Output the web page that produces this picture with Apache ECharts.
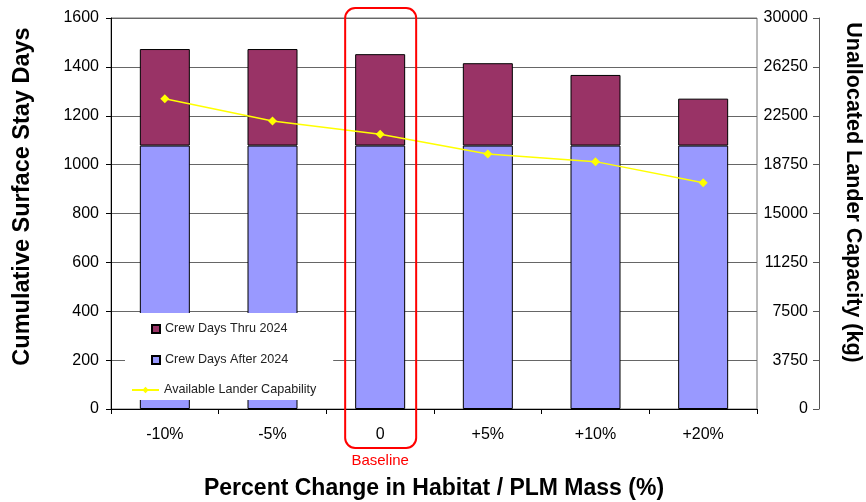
<!DOCTYPE html>
<html><head><meta charset="utf-8">
<script src="https://cdn.jsdelivr.net/npm/echarts@6/dist/echarts.min.js"></script>
<style>html,body{margin:0;padding:0;background:#fff;overflow:hidden;width:866px;height:502px}#c{width:866px;height:502px}</style>
</head><body><div id="c"></div>
<script>
const categories = ['-10%', '-5%', '0', '+5%', '+10%', '+20%'];
const crewDaysAfter2024 = [1078, 1078, 1078, 1078, 1078, 1078];
const crewDaysThru2024 = [395, 395, 374, 337, 289, 192];
const landerCapability = [23800, 22100, 21080, 19560, 18980, 17360];
const leftTicks = {min: 0, max: 1600, interval: 200};
const rightTicks = {min: 0, max: 30000, interval: 3750};
const baselineCategory = '0';

const font = '"Liberation Sans", Arial, sans-serif';
const plain = v => String(v);
const chart = echarts.init(document.getElementById('c'), null, {width: 866, height: 502});
chart.setOption({
  animation: false,
  textStyle: {fontFamily: font},
  grid: {left: 111, right: 109, top: 18, bottom: 93, show: true, borderColor: '#777', borderWidth: 1,
         containLabel: false, outerBoundsMode: 'none'},
  legend: [
    {data: ['Crew Days Thru 2024', 'Crew Days After 2024'], orient: 'vertical', left: 125, top: 313,
     padding: [9, 45, 33, 26], backgroundColor: '#fff', itemWidth: 8, itemHeight: 8, itemGap: 17,
     icon: 'rect', textStyle: {fontSize: 12.6, color: '#222', lineHeight: 14, fontFamily: font}, z: 10},
    {data: ['Available Lander Capability'], orient: 'vertical', left: 131, top: 383, padding: 0,
     itemWidth: 27, itemHeight: 8, textStyle: {fontSize: 12.6, color: '#222', lineHeight: 14, fontFamily: font}, z: 11}
  ],
  xAxis: {
    type: 'category', data: categories,
    name: 'Percent Change in Habitat / PLM Mass (%)', nameLocation: 'middle', nameGap: 68,
    nameTextStyle: {fontSize: 23, fontWeight: 'bold', color: '#000', fontFamily: font},
    axisLine: {lineStyle: {color: '#000'}},
    axisTick: {show: true, length: 5, lineStyle: {color: '#000'}},
    axisLabel: {fontSize: 16, color: '#000', margin: 18, fontFamily: font}
  },
  yAxis: [
    {type: 'value', min: leftTicks.min, max: leftTicks.max, interval: leftTicks.interval, position: 'left',
     name: 'Cumulative Surface Stay Days', nameLocation: 'middle', nameGap: 76,
     nameTextStyle: {fontSize: 23.5, fontWeight: 'bold', color: '#000', padding: [0, 0, 0, 34], fontFamily: font},
     axisLine: {show: true, lineStyle: {color: '#000'}},
     axisTick: {show: true, length: 5, lineStyle: {color: '#000'}},
     axisLabel: {fontSize: 16, color: '#000', margin: 12, fontFamily: font, formatter: plain},
     splitLine: {show: true, lineStyle: {color: '#666', width: 1}}},
    {type: 'value', min: rightTicks.min, max: rightTicks.max, interval: rightTicks.interval, position: 'right', offset: 62,
     name: 'Unallocated Lander Capacity (kg)', nameLocation: 'middle', nameGap: 23, nameRotate: -90,
     nameTextStyle: {fontSize: 21.5, fontWeight: 'bold', color: '#000', padding: [0, 42, 0, 0], fontFamily: font},
     axisLine: {show: true, lineStyle: {color: '#555'}},
     axisTick: {show: true, inside: true, length: 6, lineStyle: {color: '#555'}},
     axisLabel: {inside: true, fontSize: 16, color: '#000', margin: 11, fontFamily: font, formatter: plain},
     splitLine: {show: false}}
  ],
  series: [
    {name: 'Crew Days After 2024', type: 'bar', stack: 'days', data: crewDaysAfter2024, barWidth: 50,
     itemStyle: {color: '#9999FF', borderColor: '#000', borderWidth: 1}},
    {name: 'Crew Days Thru 2024', type: 'bar', stack: 'days', data: crewDaysThru2024, barWidth: 50,
     itemStyle: {color: '#993366', borderColor: '#000', borderWidth: 1}},
    {name: 'Available Lander Capability', type: 'line', yAxisIndex: 1, data: landerCapability,
     symbol: 'diamond', symbolSize: 9, lineStyle: {color: '#FFFF00', width: 1.5},
     itemStyle: {color: '#FFFF00'}, z: 5}
  ]
});

function drawBaseline() {
  const cx = chart.convertToPixel({xAxisIndex: 0}, baselineCategory);
  const yTop = chart.convertToPixel({yAxisIndex: 0}, leftTicks.max);
  const yBot = chart.convertToPixel({yAxisIndex: 0}, leftTicks.min);
  chart.setOption({
    graphic: [
      {type: 'rect', shape: {x: cx - 35, y: yTop - 10, width: 71, height: (yBot - yTop) + 49, r: 10},
       style: {fill: 'none', stroke: '#FF0000', lineWidth: 2}, z: 100},
      {type: 'text', x: cx, y: yBot + 52, style: {text: 'Baseline', fill: '#FF0000', fontSize: 15, fontFamily: font, align: 'center', verticalAlign: 'middle'}, z: 100}
    ]
  });
}
drawBaseline();
</script>
</body></html>
